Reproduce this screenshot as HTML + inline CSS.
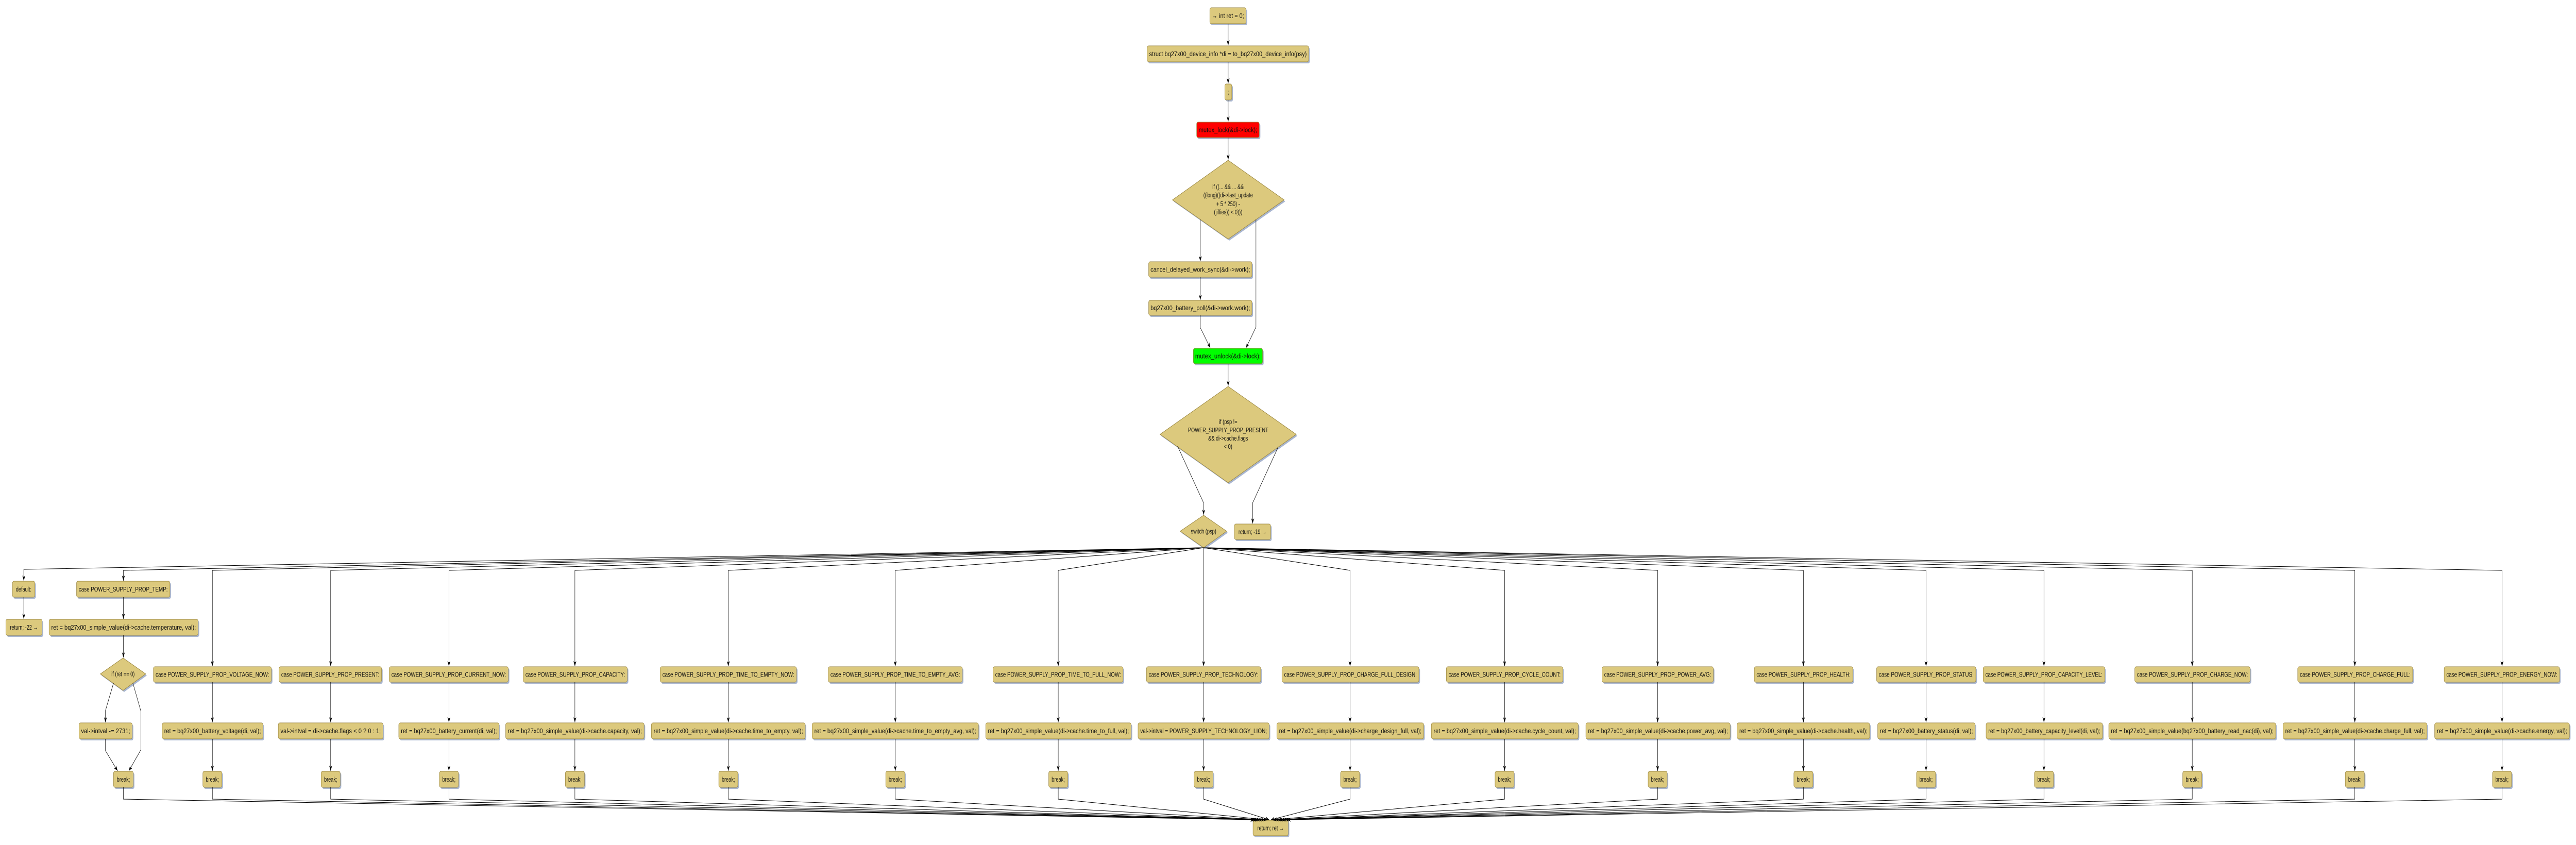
<!DOCTYPE html>
<html><head><meta charset="utf-8"><style>
html,body{margin:0;padding:0;background:#fff;overflow:hidden;width:100vw;height:100vh;}
svg{display:block;width:100vw;height:100vh;}
text{font-family:"Liberation Sans",sans-serif;font-size:13px;fill:#111;}
.s{fill:#a9b6d0;}
.b{fill:#dcc97d;stroke:#9a8640;stroke-width:1;}
.l{fill:none;stroke:#000;stroke-width:1;}
</style></head><body>
<svg viewBox="0 0 7035 1640" preserveAspectRatio="none" xmlns="http://www.w3.org/2000/svg">
<defs><marker id="a" markerUnits="userSpaceOnUse" markerWidth="12" markerHeight="10" refX="10" refY="4" orient="auto"><path d="M0,0 L10,4 L0,8 L3,4 z" fill="#000"/></marker></defs>

<g>
<rect class="s" x="3307" y="18" width="99" height="31" rx="4"/><rect class="b" x="3304" y="15" width="99" height="31" rx="4"/><text x="3353.5" y="35" text-anchor="middle" textLength="88" lengthAdjust="spacingAndGlyphs">→ int ret = 0;</text>
<rect class="s" x="3136" y="92" width="441" height="31" rx="4"/><rect class="b" x="3133" y="89" width="441" height="31" rx="4"/><text x="3353.5" y="109" text-anchor="middle" textLength="430" lengthAdjust="spacingAndGlyphs">struct bq27x00_device_info *di = to_bq27x00_device_info(psy)</text>
<rect class="s" x="3348" y="166" width="19" height="31" rx="4"/><rect class="b" x="3345" y="163" width="19" height="31" rx="4"/><text x="3354.5" y="183" text-anchor="middle">;</text>
<rect class="s" x="3271" y="240" width="171" height="30" rx="4"/><rect x="3268" y="237" width="171" height="30" rx="4" fill="#ff0000" stroke="#9a8640"/><text x="3353.5" y="256.5" text-anchor="middle" textLength="160" lengthAdjust="spacingAndGlyphs">mutex_lock(&amp;di-&gt;lock);</text>
<polygon class="s" points="3357,314 3510,391 3357,467 3205,391"/><polygon class="b" points="3354,311 3507,388 3354,464 3202,388"/>
<text x="3354" y="367" text-anchor="middle">if ((... &amp;&amp; ... &amp;&amp;</text>
<text x="3354" y="383" text-anchor="middle">((long)((di-&gt;last_update</text>
<text x="3354" y="400" text-anchor="middle">+ 5 * 250) -</text>
<text x="3354" y="416" text-anchor="middle">(jiffies)) &lt; 0)))</text>
<rect class="s" x="3140" y="511" width="282" height="30" rx="4"/><rect class="b" x="3137" y="508" width="282" height="30" rx="4"/><text x="3278" y="527.5" text-anchor="middle" textLength="272" lengthAdjust="spacingAndGlyphs">cancel_delayed_work_sync(&amp;di-&gt;work);</text>
<rect class="s" x="3140" y="586" width="282" height="29" rx="4"/><rect class="b" x="3137" y="583" width="282" height="29" rx="4"/><text x="3278" y="602" text-anchor="middle" textLength="272" lengthAdjust="spacingAndGlyphs">bq27x00_battery_poll(&amp;di-&gt;work.work);</text>
<rect class="s" x="3262" y="679" width="189" height="30" rx="4"/><rect x="3259" y="676" width="189" height="30" rx="4" fill="#00ff00" stroke="#9a8640"/><text x="3353.5" y="695.5" text-anchor="middle" textLength="179" lengthAdjust="spacingAndGlyphs">mutex_unlock(&amp;di-&gt;lock);</text>
<polygon class="s" points="3357,753 3543,846 3357,940 3171,846"/><polygon class="b" points="3354,750 3540,843 3354,937 3168,843"/>
<text x="3354" y="823" text-anchor="middle">if (psp !=</text>
<text x="3354" y="839" text-anchor="middle">POWER_SUPPLY_PROP_PRESENT</text>
<text x="3354" y="855" text-anchor="middle">&amp;&amp; di-&gt;cache.flags</text>
<text x="3354" y="871" text-anchor="middle">&lt; 0)</text>
<polygon class="s" points="3290,1003 3353,1034 3290,1066 3226,1034"/><polygon class="b" points="3287,1000 3350,1031 3287,1063 3223,1031"/><text x="3287" y="1035.5" text-anchor="middle">switch (psp)</text>
<rect class="s" x="3374" y="1020" width="99" height="30" rx="4"/><rect class="b" x="3371" y="1017" width="99" height="30" rx="4"/><text x="3420.5" y="1036.5" text-anchor="middle">return; -19 →</text>

<line class="l" x1="3354" y1="46" x2="3354" y2="88" marker-end="url(#a)"/>
<line class="l" x1="3354" y1="120" x2="3354" y2="162" marker-end="url(#a)"/>
<line class="l" x1="3354" y1="194" x2="3354" y2="236" marker-end="url(#a)"/>
<line class="l" x1="3354" y1="267" x2="3354" y2="310" marker-end="url(#a)"/>
<line class="l" x1="3278" y1="426" x2="3278" y2="507" marker-end="url(#a)"/>
<line class="l" x1="3278" y1="538" x2="3278" y2="582" marker-end="url(#a)"/>
<polyline class="l" points="3278,612 3278,636 3305,675" marker-end="url(#a)"/>
<polyline class="l" points="3430,426 3430,635 3403,675" marker-end="url(#a)"/>
<line class="l" x1="3354" y1="706" x2="3354" y2="749" marker-end="url(#a)"/>
<polyline class="l" points="3216,866 3287,976 3287,999" marker-end="url(#a)"/>
<polyline class="l" points="3491,867 3421,976 3421,1016" marker-end="url(#a)"/>
</g>

<g>
<rect class="s" x="37" y="1131" width="61" height="31" rx="4"/><rect class="b" x="34" y="1128" width="61" height="31" rx="4"/><text x="64.5" y="1148" text-anchor="middle">default:</text>
<rect class="s" x="19" y="1205" width="99" height="31" rx="4"/><rect class="b" x="16" y="1202" width="99" height="31" rx="4"/><text x="65.5" y="1222" text-anchor="middle">return; -22 →</text>
<line class="l" x1="65" y1="1159" x2="65" y2="1201" marker-end="url(#a)"/>
<rect class="s" x="212" y="1131" width="255" height="31" rx="4"/><rect class="b" x="209" y="1128" width="255" height="31" rx="4"/><text x="336.5" y="1148" text-anchor="middle" textLength="243" lengthAdjust="spacingAndGlyphs">case POWER_SUPPLY_PROP_TEMP:</text>
<rect class="s" x="137" y="1205" width="407" height="31" rx="4"/><rect class="b" x="134" y="1202" width="407" height="31" rx="4"/><text x="337.5" y="1222" text-anchor="middle" textLength="395" lengthAdjust="spacingAndGlyphs">ret = bq27x00_simple_value(di-&gt;cache.temperature, val);</text>
<line class="l" x1="337" y1="1159" x2="337" y2="1201" marker-end="url(#a)"/>
<line class="l" x1="337" y1="1233" x2="337" y2="1276" marker-end="url(#a)"/>
<polygon class="s" points="339,1280 401,1311 339,1343 277,1311"/><polygon class="b" points="336,1277 398,1308 336,1340 274,1308"/><text x="336" y="1312.5" text-anchor="middle">if (ret == 0)</text>
<rect class="s" x="219" y="1406" width="145" height="31" rx="4"/><rect class="b" x="216" y="1403" width="145" height="31" rx="4"/><text x="288.5" y="1423" text-anchor="middle" textLength="134" lengthAdjust="spacingAndGlyphs">val-&gt;intval -= 2731;</text>
<polyline class="l" points="310,1326 288,1379 288,1402" marker-end="url(#a)"/>
<polyline class="l" points="363,1326 385,1381 385,1455 352,1496" marker-end="url(#a)"/>
<polyline class="l" points="288,1434 288,1457 321,1496" marker-end="url(#a)"/>
<rect class="s" x="313" y="1500" width="54" height="31" rx="4"/><rect class="b" x="310" y="1497" width="54" height="31" rx="4"/><text x="337" y="1517" text-anchor="middle">break;</text>
<polyline class="l" points="3287,1063 65,1105 65,1127" marker-end="url(#a)"/>
<polyline class="l" points="3287,1063 337,1107 337,1127" marker-end="url(#a)"/>
<polyline class="l" points="337,1528 337,1551 3425,1591" marker-end="url(#a)"/>
</g>

<g>
<rect class="s" x="422" y="1297" width="322" height="30" rx="4"/><rect class="b" x="419" y="1294" width="322" height="30" rx="4"/><text x="580" y="1313.5" text-anchor="middle" textLength="310" lengthAdjust="spacingAndGlyphs">case POWER_SUPPLY_PROP_VOLTAGE_NOW:</text>
<rect class="s" x="446" y="1406" width="275" height="31" rx="4"/><rect class="b" x="443" y="1403" width="275" height="31" rx="4"/><text x="580.5" y="1423" text-anchor="middle" textLength="264" lengthAdjust="spacingAndGlyphs">ret = bq27x00_battery_voltage(di, val);</text>
<rect class="s" x="765" y="1297" width="280" height="30" rx="4"/><rect class="b" x="762" y="1294" width="280" height="30" rx="4"/><text x="902" y="1313.5" text-anchor="middle" textLength="268" lengthAdjust="spacingAndGlyphs">case POWER_SUPPLY_PROP_PRESENT:</text>
<rect class="s" x="763" y="1406" width="286" height="31" rx="4"/><rect class="b" x="760" y="1403" width="286" height="31" rx="4"/><text x="903" y="1423" text-anchor="middle" textLength="274" lengthAdjust="spacingAndGlyphs">val-&gt;intval = di-&gt;cache.flags &lt; 0 ? 0 : 1;</text>
<rect class="s" x="1066" y="1297" width="325" height="30" rx="4"/><rect class="b" x="1063" y="1294" width="325" height="30" rx="4"/><text x="1225.5" y="1313.5" text-anchor="middle" textLength="313" lengthAdjust="spacingAndGlyphs">case POWER_SUPPLY_PROP_CURRENT_NOW:</text>
<rect class="s" x="1092" y="1406" width="274" height="31" rx="4"/><rect class="b" x="1089" y="1403" width="274" height="31" rx="4"/><text x="1226" y="1423" text-anchor="middle" textLength="262" lengthAdjust="spacingAndGlyphs">ret = bq27x00_battery_current(di, val);</text>
<rect class="s" x="1432" y="1297" width="284" height="30" rx="4"/><rect class="b" x="1429" y="1294" width="284" height="30" rx="4"/><text x="1571" y="1313.5" text-anchor="middle" textLength="272" lengthAdjust="spacingAndGlyphs">case POWER_SUPPLY_PROP_CAPACITY:</text>
<rect class="s" x="1384" y="1406" width="378" height="31" rx="4"/><rect class="b" x="1381" y="1403" width="378" height="31" rx="4"/><text x="1570" y="1423" text-anchor="middle" textLength="366" lengthAdjust="spacingAndGlyphs">ret = bq27x00_simple_value(di-&gt;cache.capacity, val);</text>
<rect class="s" x="1806" y="1297" width="372" height="30" rx="4"/><rect class="b" x="1803" y="1294" width="372" height="30" rx="4"/><text x="1989" y="1313.5" text-anchor="middle" textLength="360" lengthAdjust="spacingAndGlyphs">case POWER_SUPPLY_PROP_TIME_TO_EMPTY_NOW:</text>
<rect class="s" x="1782" y="1406" width="420" height="31" rx="4"/><rect class="b" x="1779" y="1403" width="420" height="31" rx="4"/><text x="1989" y="1423" text-anchor="middle" textLength="408" lengthAdjust="spacingAndGlyphs">ret = bq27x00_simple_value(di-&gt;cache.time_to_empty, val);</text>
<rect class="s" x="2265" y="1297" width="366" height="30" rx="4"/><rect class="b" x="2262" y="1294" width="366" height="30" rx="4"/><text x="2445" y="1313.5" text-anchor="middle" textLength="354" lengthAdjust="spacingAndGlyphs">case POWER_SUPPLY_PROP_TIME_TO_EMPTY_AVG:</text>
<rect class="s" x="2221" y="1406" width="454" height="31" rx="4"/><rect class="b" x="2218" y="1403" width="454" height="31" rx="4"/><text x="2445" y="1423" text-anchor="middle" textLength="442" lengthAdjust="spacingAndGlyphs">ret = bq27x00_simple_value(di-&gt;cache.time_to_empty_avg, val);</text>
<rect class="s" x="2715" y="1297" width="355" height="30" rx="4"/><rect class="b" x="2712" y="1294" width="355" height="30" rx="4"/><text x="2889.5" y="1313.5" text-anchor="middle" textLength="343" lengthAdjust="spacingAndGlyphs">case POWER_SUPPLY_PROP_TIME_TO_FULL_NOW:</text>
<rect class="s" x="2695" y="1406" width="397" height="31" rx="4"/><rect class="b" x="2692" y="1403" width="397" height="31" rx="4"/><text x="2890.5" y="1423" text-anchor="middle" textLength="385" lengthAdjust="spacingAndGlyphs">ret = bq27x00_simple_value(di-&gt;cache.time_to_full, val);</text>
<rect class="s" x="3134" y="1297" width="312" height="30" rx="4"/><rect class="b" x="3131" y="1294" width="312" height="30" rx="4"/><text x="3287" y="1313.5" text-anchor="middle" textLength="300" lengthAdjust="spacingAndGlyphs">case POWER_SUPPLY_PROP_TECHNOLOGY:</text>
<rect class="s" x="3111" y="1406" width="358" height="31" rx="4"/><rect class="b" x="3108" y="1403" width="358" height="31" rx="4"/><text x="3287" y="1423" text-anchor="middle" textLength="346" lengthAdjust="spacingAndGlyphs">val-&gt;intval = POWER_SUPPLY_TECHNOLOGY_LION;</text>
<rect class="s" x="3504" y="1297" width="374" height="30" rx="4"/><rect class="b" x="3501" y="1294" width="374" height="30" rx="4"/><text x="3688" y="1313.5" text-anchor="middle" textLength="362" lengthAdjust="spacingAndGlyphs">case POWER_SUPPLY_PROP_CHARGE_FULL_DESIGN:</text>
<rect class="s" x="3490" y="1406" width="401" height="31" rx="4"/><rect class="b" x="3487" y="1403" width="401" height="31" rx="4"/><text x="3687.5" y="1423" text-anchor="middle" textLength="389" lengthAdjust="spacingAndGlyphs">ret = bq27x00_simple_value(di-&gt;charge_design_full, val);</text>
<rect class="s" x="3953" y="1297" width="318" height="30" rx="4"/><rect class="b" x="3950" y="1294" width="318" height="30" rx="4"/><text x="4109" y="1313.5" text-anchor="middle" textLength="306" lengthAdjust="spacingAndGlyphs">case POWER_SUPPLY_PROP_CYCLE_COUNT:</text>
<rect class="s" x="3912" y="1406" width="401" height="31" rx="4"/><rect class="b" x="3909" y="1403" width="401" height="31" rx="4"/><text x="4109.5" y="1423" text-anchor="middle" textLength="389" lengthAdjust="spacingAndGlyphs">ret = bq27x00_simple_value(di-&gt;cache.cycle_count, val);</text>
<rect class="s" x="4378" y="1297" width="304" height="30" rx="4"/><rect class="b" x="4375" y="1294" width="304" height="30" rx="4"/><text x="4527" y="1313.5" text-anchor="middle" textLength="292" lengthAdjust="spacingAndGlyphs">case POWER_SUPPLY_PROP_POWER_AVG:</text>
<rect class="s" x="4334" y="1406" width="394" height="31" rx="4"/><rect class="b" x="4331" y="1403" width="394" height="31" rx="4"/><text x="4528" y="1423" text-anchor="middle" textLength="382" lengthAdjust="spacingAndGlyphs">ret = bq27x00_simple_value(di-&gt;cache.power_avg, val);</text>
<rect class="s" x="4794" y="1297" width="269" height="30" rx="4"/><rect class="b" x="4791" y="1294" width="269" height="30" rx="4"/><text x="4925.5" y="1313.5" text-anchor="middle" textLength="257" lengthAdjust="spacingAndGlyphs">case POWER_SUPPLY_PROP_HEALTH:</text>
<rect class="s" x="4747" y="1406" width="362" height="31" rx="4"/><rect class="b" x="4744" y="1403" width="362" height="31" rx="4"/><text x="4925" y="1423" text-anchor="middle" textLength="350" lengthAdjust="spacingAndGlyphs">ret = bq27x00_simple_value(di-&gt;cache.health, val);</text>
<rect class="s" x="5128" y="1297" width="271" height="30" rx="4"/><rect class="b" x="5125" y="1294" width="271" height="30" rx="4"/><text x="5260.5" y="1313.5" text-anchor="middle" textLength="259" lengthAdjust="spacingAndGlyphs">case POWER_SUPPLY_PROP_STATUS:</text>
<rect class="s" x="5131" y="1406" width="266" height="31" rx="4"/><rect class="b" x="5128" y="1403" width="266" height="31" rx="4"/><text x="5261" y="1423" text-anchor="middle" textLength="254" lengthAdjust="spacingAndGlyphs">ret = bq27x00_battery_status(di, val);</text>
<rect class="s" x="5419" y="1297" width="332" height="30" rx="4"/><rect class="b" x="5416" y="1294" width="332" height="30" rx="4"/><text x="5582" y="1313.5" text-anchor="middle" textLength="320" lengthAdjust="spacingAndGlyphs">case POWER_SUPPLY_PROP_CAPACITY_LEVEL:</text>
<rect class="s" x="5427" y="1406" width="318" height="31" rx="4"/><rect class="b" x="5424" y="1403" width="318" height="31" rx="4"/><text x="5583" y="1423" text-anchor="middle" textLength="306" lengthAdjust="spacingAndGlyphs">ret = bq27x00_battery_capacity_level(di, val);</text>
<rect class="s" x="5833" y="1297" width="315" height="30" rx="4"/><rect class="b" x="5830" y="1294" width="315" height="30" rx="4"/><text x="5987.5" y="1313.5" text-anchor="middle" textLength="303" lengthAdjust="spacingAndGlyphs">case POWER_SUPPLY_PROP_CHARGE_NOW:</text>
<rect class="s" x="5762" y="1406" width="456" height="31" rx="4"/><rect class="b" x="5759" y="1403" width="456" height="31" rx="4"/><text x="5987" y="1423" text-anchor="middle" textLength="444" lengthAdjust="spacingAndGlyphs">ret = bq27x00_simple_value(bq27x00_battery_read_nac(di), val);</text>
<rect class="s" x="6278" y="1297" width="314" height="30" rx="4"/><rect class="b" x="6275" y="1294" width="314" height="30" rx="4"/><text x="6432" y="1313.5" text-anchor="middle" textLength="302" lengthAdjust="spacingAndGlyphs">case POWER_SUPPLY_PROP_CHARGE_FULL:</text>
<rect class="s" x="6238" y="1406" width="393" height="31" rx="4"/><rect class="b" x="6235" y="1403" width="393" height="31" rx="4"/><text x="6431.5" y="1423" text-anchor="middle" textLength="381" lengthAdjust="spacingAndGlyphs">ret = bq27x00_simple_value(di-&gt;cache.charge_full, val);</text>
<rect class="s" x="6678" y="1297" width="315" height="30" rx="4"/><rect class="b" x="6675" y="1294" width="315" height="30" rx="4"/><text x="6832.5" y="1313.5" text-anchor="middle" textLength="303" lengthAdjust="spacingAndGlyphs">case POWER_SUPPLY_PROP_ENERGY_NOW:</text>
<rect class="s" x="6652" y="1406" width="368" height="31" rx="4"/><rect class="b" x="6649" y="1403" width="368" height="31" rx="4"/><text x="6833" y="1423" text-anchor="middle" textLength="356" lengthAdjust="spacingAndGlyphs">ret = bq27x00_simple_value(di-&gt;cache.energy, val);</text>
</g>

<g>
<rect class="s" x="557" y="1500" width="52" height="31" rx="4"/><rect class="b" x="554" y="1497" width="52" height="31" rx="4"/><text x="580" y="1517" text-anchor="middle">break;</text>
<rect class="s" x="880" y="1500" width="52" height="31" rx="4"/><rect class="b" x="877" y="1497" width="52" height="31" rx="4"/><text x="903" y="1517" text-anchor="middle">break;</text>
<rect class="s" x="1203" y="1500" width="52" height="31" rx="4"/><rect class="b" x="1200" y="1497" width="52" height="31" rx="4"/><text x="1226" y="1517" text-anchor="middle">break;</text>
<rect class="s" x="1547" y="1500" width="52" height="31" rx="4"/><rect class="b" x="1544" y="1497" width="52" height="31" rx="4"/><text x="1570" y="1517" text-anchor="middle">break;</text>
<rect class="s" x="1966" y="1500" width="52" height="31" rx="4"/><rect class="b" x="1963" y="1497" width="52" height="31" rx="4"/><text x="1989" y="1517" text-anchor="middle">break;</text>
<rect class="s" x="2422" y="1500" width="52" height="31" rx="4"/><rect class="b" x="2419" y="1497" width="52" height="31" rx="4"/><text x="2445" y="1517" text-anchor="middle">break;</text>
<rect class="s" x="2867" y="1500" width="52" height="31" rx="4"/><rect class="b" x="2864" y="1497" width="52" height="31" rx="4"/><text x="2890" y="1517" text-anchor="middle">break;</text>
<rect class="s" x="3264" y="1500" width="52" height="31" rx="4"/><rect class="b" x="3261" y="1497" width="52" height="31" rx="4"/><text x="3287" y="1517" text-anchor="middle">break;</text>
<rect class="s" x="3664" y="1500" width="52" height="31" rx="4"/><rect class="b" x="3661" y="1497" width="52" height="31" rx="4"/><text x="3687" y="1517" text-anchor="middle">break;</text>
<rect class="s" x="4086" y="1500" width="52" height="31" rx="4"/><rect class="b" x="4083" y="1497" width="52" height="31" rx="4"/><text x="4109" y="1517" text-anchor="middle">break;</text>
<rect class="s" x="4504" y="1500" width="52" height="31" rx="4"/><rect class="b" x="4501" y="1497" width="52" height="31" rx="4"/><text x="4527" y="1517" text-anchor="middle">break;</text>
<rect class="s" x="4902" y="1500" width="52" height="31" rx="4"/><rect class="b" x="4899" y="1497" width="52" height="31" rx="4"/><text x="4925" y="1517" text-anchor="middle">break;</text>
<rect class="s" x="5237" y="1500" width="52" height="31" rx="4"/><rect class="b" x="5234" y="1497" width="52" height="31" rx="4"/><text x="5260" y="1517" text-anchor="middle">break;</text>
<rect class="s" x="5559" y="1500" width="52" height="31" rx="4"/><rect class="b" x="5556" y="1497" width="52" height="31" rx="4"/><text x="5582" y="1517" text-anchor="middle">break;</text>
<rect class="s" x="5964" y="1500" width="52" height="31" rx="4"/><rect class="b" x="5961" y="1497" width="52" height="31" rx="4"/><text x="5987" y="1517" text-anchor="middle">break;</text>
<rect class="s" x="6408" y="1500" width="52" height="31" rx="4"/><rect class="b" x="6405" y="1497" width="52" height="31" rx="4"/><text x="6431" y="1517" text-anchor="middle">break;</text>
<rect class="s" x="6810" y="1500" width="52" height="31" rx="4"/><rect class="b" x="6807" y="1497" width="52" height="31" rx="4"/><text x="6833" y="1517" text-anchor="middle">break;</text>
</g>

<rect class="s" x="3425" y="1595" width="96" height="30" rx="4"/><rect class="b" x="3422" y="1592" width="96" height="30" rx="4"/><text x="3470" y="1611.5" text-anchor="middle">return; ret →</text>

<g>
<polyline class="l" points="3287,1063 580,1107 580,1293" marker-end="url(#a)"/><line class="l" x1="580" y1="1324" x2="580" y2="1402" marker-end="url(#a)"/><line class="l" x1="580" y1="1434" x2="580" y2="1496" marker-end="url(#a)"/><polyline class="l" points="580,1528 580,1551 3428,1591" marker-end="url(#a)"/>
<polyline class="l" points="3287,1063 903,1107 903,1293" marker-end="url(#a)"/><line class="l" x1="903" y1="1324" x2="903" y2="1402" marker-end="url(#a)"/><line class="l" x1="903" y1="1434" x2="903" y2="1496" marker-end="url(#a)"/><polyline class="l" points="903,1528 903,1551 3433,1591" marker-end="url(#a)"/>
<polyline class="l" points="3287,1063 1226,1107 1226,1293" marker-end="url(#a)"/><line class="l" x1="1226" y1="1324" x2="1226" y2="1402" marker-end="url(#a)"/><line class="l" x1="1226" y1="1434" x2="1226" y2="1496" marker-end="url(#a)"/><polyline class="l" points="1226,1528 1226,1551 3437,1591" marker-end="url(#a)"/>
<polyline class="l" points="3287,1063 1570,1107 1570,1293" marker-end="url(#a)"/><line class="l" x1="1570" y1="1324" x2="1570" y2="1402" marker-end="url(#a)"/><line class="l" x1="1570" y1="1434" x2="1570" y2="1496" marker-end="url(#a)"/><polyline class="l" points="1570,1528 1570,1551 3442,1591" marker-end="url(#a)"/>
<polyline class="l" points="3287,1063 1989,1107 1989,1293" marker-end="url(#a)"/><line class="l" x1="1989" y1="1324" x2="1989" y2="1402" marker-end="url(#a)"/><line class="l" x1="1989" y1="1434" x2="1989" y2="1496" marker-end="url(#a)"/><polyline class="l" points="1989,1528 1989,1551 3448,1591" marker-end="url(#a)"/>
<polyline class="l" points="3287,1063 2445,1107 2445,1293" marker-end="url(#a)"/><line class="l" x1="2445" y1="1324" x2="2445" y2="1402" marker-end="url(#a)"/><line class="l" x1="2445" y1="1434" x2="2445" y2="1496" marker-end="url(#a)"/><polyline class="l" points="2445,1528 2445,1551 3454,1591" marker-end="url(#a)"/>
<polyline class="l" points="3287,1063 2890,1107 2890,1293" marker-end="url(#a)"/><line class="l" x1="2890" y1="1324" x2="2890" y2="1402" marker-end="url(#a)"/><line class="l" x1="2890" y1="1434" x2="2890" y2="1496" marker-end="url(#a)"/><polyline class="l" points="2890,1528 2890,1551 3460,1591" marker-end="url(#a)"/>
<line class="l" x1="3287" y1="1063" x2="3287" y2="1293" marker-end="url(#a)"/><line class="l" x1="3287" y1="1324" x2="3287" y2="1402" marker-end="url(#a)"/><line class="l" x1="3287" y1="1434" x2="3287" y2="1496" marker-end="url(#a)"/><polyline class="l" points="3287,1528 3287,1551 3466,1591" marker-end="url(#a)"/>
<polyline class="l" points="3287,1063 3687,1107 3687,1293" marker-end="url(#a)"/><line class="l" x1="3687" y1="1324" x2="3687" y2="1402" marker-end="url(#a)"/><line class="l" x1="3687" y1="1434" x2="3687" y2="1496" marker-end="url(#a)"/><polyline class="l" points="3687,1528 3687,1551 3471,1591" marker-end="url(#a)"/>
<polyline class="l" points="3287,1063 4109,1107 4109,1293" marker-end="url(#a)"/><line class="l" x1="4109" y1="1324" x2="4109" y2="1402" marker-end="url(#a)"/><line class="l" x1="4109" y1="1434" x2="4109" y2="1496" marker-end="url(#a)"/><polyline class="l" points="4109,1528 4109,1551 3477,1591" marker-end="url(#a)"/>
<polyline class="l" points="3287,1063 4527,1107 4527,1293" marker-end="url(#a)"/><line class="l" x1="4527" y1="1324" x2="4527" y2="1402" marker-end="url(#a)"/><line class="l" x1="4527" y1="1434" x2="4527" y2="1496" marker-end="url(#a)"/><polyline class="l" points="4527,1528 4527,1551 3483,1591" marker-end="url(#a)"/>
<polyline class="l" points="3287,1063 4925,1107 4925,1293" marker-end="url(#a)"/><line class="l" x1="4925" y1="1324" x2="4925" y2="1402" marker-end="url(#a)"/><line class="l" x1="4925" y1="1434" x2="4925" y2="1496" marker-end="url(#a)"/><polyline class="l" points="4925,1528 4925,1551 3489,1591" marker-end="url(#a)"/>
<polyline class="l" points="3287,1063 5260,1107 5260,1293" marker-end="url(#a)"/><line class="l" x1="5260" y1="1324" x2="5260" y2="1402" marker-end="url(#a)"/><line class="l" x1="5260" y1="1434" x2="5260" y2="1496" marker-end="url(#a)"/><polyline class="l" points="5260,1528 5260,1551 3493,1591" marker-end="url(#a)"/>
<polyline class="l" points="3287,1063 5582,1107 5582,1293" marker-end="url(#a)"/><line class="l" x1="5582" y1="1324" x2="5582" y2="1402" marker-end="url(#a)"/><line class="l" x1="5582" y1="1434" x2="5582" y2="1496" marker-end="url(#a)"/><polyline class="l" points="5582,1528 5582,1551 3498,1591" marker-end="url(#a)"/>
<polyline class="l" points="3287,1063 5987,1107 5987,1293" marker-end="url(#a)"/><line class="l" x1="5987" y1="1324" x2="5987" y2="1402" marker-end="url(#a)"/><line class="l" x1="5987" y1="1434" x2="5987" y2="1496" marker-end="url(#a)"/><polyline class="l" points="5987,1528 5987,1551 3503,1591" marker-end="url(#a)"/>
<polyline class="l" points="3287,1063 6431,1107 6431,1293" marker-end="url(#a)"/><line class="l" x1="6431" y1="1324" x2="6431" y2="1402" marker-end="url(#a)"/><line class="l" x1="6431" y1="1434" x2="6431" y2="1496" marker-end="url(#a)"/><polyline class="l" points="6431,1528 6431,1551 3510,1591" marker-end="url(#a)"/>
<polyline class="l" points="3287,1063 6833,1107 6833,1293" marker-end="url(#a)"/><line class="l" x1="6833" y1="1324" x2="6833" y2="1402" marker-end="url(#a)"/><line class="l" x1="6833" y1="1434" x2="6833" y2="1496" marker-end="url(#a)"/><polyline class="l" points="6833,1528 6833,1551 3515,1591" marker-end="url(#a)"/>
</g>
</svg>
</body></html>
